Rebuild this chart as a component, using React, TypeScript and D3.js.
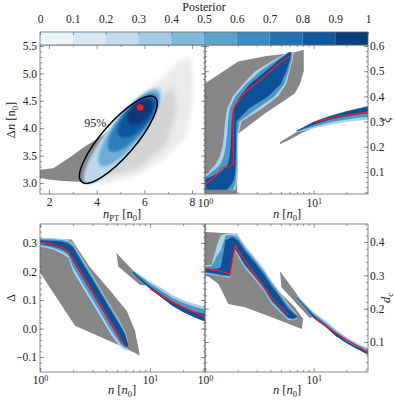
import React, { useEffect, useRef } from 'react'
import * as d3 from 'd3'

type Pt = [number, number]

const FONT = "'Liberation Serif', 'Times New Roman', serif"

// colour bar bins
const cbEdges = [0, 0.1, 0.2, 0.3, 0.4, 0.5, 0.6, 0.7, 0.8, 0.9, 1]

// ---- panel (a): Δn vs n_PT ----
const cloudOuter: Pt[] = [[3.44, 3.01], [4.42, 3.0], [5.54, 3.12], [6.79, 3.43], [7.78, 3.86], [8.05, 4.62], [7.99, 5.29], [7.5, 5.26], [6.79, 4.93], [6.24, 4.75], [5.5, 4.25], [4.5, 3.65], [3.6, 3.15]]
const cloudInner: Pt[] = [[4.42, 3.1], [5.82, 3.29], [6.94, 3.71], [7.36, 4.32], [7.21, 4.75], [6.5, 4.5], [5.5, 4.0], [4.4, 3.35]]
const priorBand: Pt[] = [[1.6, 3.24], [2.18, 3.27], [2.88, 3.47], [3.44, 3.65], [4.15, 3.84], [4.6, 3.98], [4.7, 3.7], [4.2, 3.3], [3.6, 3.02], [3.0, 3.03], [2.46, 3.04], [1.9, 3.07], [1.6, 3.1]]
// density contours: level, centre, end of major axis, axis ratio
const densityLevel = [0.28, 0.5, 0.7, 0.86, 0.97]
const densityCentre: Pt[] = [[5.1, 3.86], [5.36, 4.0], [5.52, 4.1], [5.69, 4.2], [5.82, 4.3]]
const densityEnd: Pt[] = [[6.66, 4.73], [6.57, 4.68], [6.49, 4.61], [6.41, 4.55], [6.28, 4.5]]
const densityRatio = [0.26, 0.3, 0.36, 0.44, 0.58]
const ellipseCentre: Pt = [4.91, 3.79]
const ellipseEnd: Pt = [6.45, 4.56]
const ellipseRatio = 0.3
const bestFit: Pt = [5.83, 4.38]

// ---- panel (b): ξ vs n ----
const xiPrior1: Pt[] = [[0.95, 0.0], [0.95, 0.445], [2.02, 0.539], [3.56, 0.559], [6.27, 0.572], [8.1, 0.585], [8.1, 0.5], [7.5, 0.45], [6.7, 0.412], [3.56, 0.332], [2.02, 0.252], [1.97, 0.0]]
const xiGrid = [0.03, 0.05, 0.07, 0.1, 0.13, 0.16, 0.2, 0.25, 0.3, 0.35, 0.4, 0.45, 0.5, 0.55, 0.575]
const xiOuterLo = [0.9, 0.9, 0.9, 1.08, 1.25, 1.36, 1.45, 1.5, 1.53, 1.6, 1.8, 2.25, 2.9, 4.5, 5.8]
const xiOuterHi = [1.9, 1.95, 1.97, 1.98, 2.0, 2.0, 2.02, 2.03, 2.17, 3.3, 4.7, 5.6, 6.0, 6.45, 6.5]
const xiMidLo = [0.9, 0.9, 0.95, 1.15, 1.38, 1.48, 1.55, 1.6, 1.63, 1.68, 1.9, 2.4, 3.2, 4.75, 5.9]
const xiMidHi = [1.8, 1.9, 1.93, 1.95, 1.96, 1.96, 1.97, 1.98, 2.08, 3.0, 4.35, 5.4, 5.85, 6.3, 6.35]
const xiCoreLo = [0.9, 0.9, 1.0, 1.4, 1.62, 1.68, 1.72, 1.74, 1.76, 1.82, 2.1, 2.6, 3.6, 5.0, 6.0]
const xiCoreHi = [1.6, 1.75, 1.85, 1.9, 1.91, 1.92, 1.93, 1.93, 1.95, 2.5, 3.8, 5.0, 5.6, 6.1, 6.2]
const xiMedian1: Pt[] = [[1.0, 0.048], [1.33, 0.095], [1.42, 0.115], [1.64, 0.12], [1.76, 0.128], [1.82, 0.13], [1.82, 0.348], [1.89, 0.361], [2.33, 0.415], [3.32, 0.468], [4.73, 0.528], [6.06, 0.561]]
const xiPrior2N = [4.9, 6, 8, 10]
const xiPrior2Lo = [0.21, 0.228, 0.258, 0.276]
const xiPrior2Hi = [0.218, 0.242, 0.275, 0.296]
const nHigh = [7, 8, 10, 13, 16, 20, 25, 32]
const xi2OuterLo = [0.258, 0.264, 0.274, 0.285, 0.292, 0.298, 0.303, 0.308]
const xi2OuterHi = [0.266, 0.279, 0.3, 0.318, 0.33, 0.342, 0.352, 0.362]
const xi2MidLo = [0.26, 0.268, 0.28, 0.293, 0.301, 0.308, 0.314, 0.32]
const xi2MidHi = [0.265, 0.278, 0.299, 0.317, 0.329, 0.341, 0.351, 0.361]
const xi2CoreLo = [0.262, 0.272, 0.288, 0.303, 0.312, 0.32, 0.327, 0.333]
const xi2CoreHi = [0.264, 0.277, 0.298, 0.316, 0.328, 0.34, 0.35, 0.36]
const xiMedian2: Pt[] = [[10, 0.296], [13, 0.31], [16, 0.318], [20, 0.326], [25, 0.332], [32, 0.338]]

// ---- panel (c): Δ vs n ----
const dPrior1: Pt[] = [[0.95, 0.316], [1.94, 0.312], [2.85, 0.215], [4.33, 0.133], [6.14, 0.062], [7.3, -0.008], [8.1, -0.095], [5.5, -0.062], [2.08, 0.01], [0.95, 0.21]]
const nLow = [1, 1.3, 1.6, 1.81, 2.0, 2.43, 3.28, 4.4, 5.4, 5.93, 6.3]
const dOuterHi = [0.318, 0.318, 0.315, 0.31, 0.298, 0.244, 0.161, 0.078, 0.02, -0.01, -0.045]
const dOuterLo = [0.288, 0.278, 0.262, 0.248, 0.2, 0.146, 0.063, -0.02, -0.065, -0.075, -0.075]
const dMidHi = [0.314, 0.313, 0.31, 0.305, 0.293, 0.239, 0.156, 0.073, 0.015, -0.015, -0.05]
const dMidLo = [0.292, 0.283, 0.27, 0.256, 0.215, 0.16, 0.077, -0.006, -0.055, -0.068, -0.07]
const dCoreHi = [0.31, 0.308, 0.304, 0.298, 0.285, 0.23, 0.147, 0.064, 0.008, -0.02, -0.055]
const dCoreLo = [0.297, 0.289, 0.278, 0.265, 0.235, 0.18, 0.097, 0.014, -0.045, -0.062, -0.065]
const dMedian1: Pt[] = [[1, 0.303], [1.3, 0.295], [1.6, 0.284], [1.81, 0.272], [2.43, 0.189], [3.28, 0.106], [4.4, 0.023], [5.93, -0.06]]
const dPrior2: Pt[] = [[4.95, 0.265], [7.05, 0.203], [10, 0.15], [8.1, 0.153], [5.15, 0.218]]
const d2OuterHi = [0.205, 0.19, 0.165, 0.14, 0.118, 0.1, 0.087, 0.077]
const d2MidHi = [0.203, 0.186, 0.158, 0.13, 0.108, 0.09, 0.077, 0.066]
const d2CoreHi = [0.2, 0.18, 0.148, 0.118, 0.095, 0.075, 0.06, 0.05]
const d2Lo = [0.195, 0.172, 0.14, 0.106, 0.08, 0.058, 0.04, 0.024]
const dMedian2: Pt[] = [[10, 0.14], [13, 0.112], [17, 0.088], [22, 0.068], [27, 0.053], [32, 0.04]]

// ---- panel (d): d_c vs n ----
const cPrior1: Pt[] = [[0.95, 0.43], [1.96, 0.425], [2.88, 0.344], [4.73, 0.254], [6.7, 0.204], [8.0, 0.169], [7.8, 0.139], [4.1, 0.174], [2.33, 0.204], [1.64, 0.214], [1.33, 0.274], [0.95, 0.309]]
const nSpike = [1, 1.15, 1.3, 1.4, 1.55, 1.7, 1.8, 1.89, 2.02, 2.33, 2.88, 3.5, 4.1, 4.9, 5.84, 6.5, 7.0]
const cOuterHi = [0.33, 0.332, 0.395, 0.42, 0.425, 0.425, 0.425, 0.424, 0.419, 0.39, 0.354, 0.318, 0.284, 0.25, 0.214, 0.196, 0.184]
const cOuterLo = [0.305, 0.302, 0.299, 0.297, 0.295, 0.293, 0.34, 0.372, 0.355, 0.322, 0.287, 0.252, 0.215, 0.19, 0.166, 0.165, 0.17]
const cMidHi = [0.326, 0.328, 0.36, 0.375, 0.42, 0.42, 0.42, 0.418, 0.413, 0.383, 0.347, 0.311, 0.278, 0.244, 0.209, 0.192, 0.181]
const cMidLo = [0.307, 0.304, 0.301, 0.299, 0.297, 0.296, 0.343, 0.376, 0.36, 0.327, 0.291, 0.256, 0.22, 0.194, 0.169, 0.167, 0.172]
const cCoreHi = [0.32, 0.32, 0.32, 0.325, 0.405, 0.412, 0.414, 0.41, 0.404, 0.374, 0.338, 0.302, 0.268, 0.235, 0.2, 0.186, 0.178]
const cCoreLo = [0.31, 0.307, 0.304, 0.302, 0.3, 0.299, 0.346, 0.38, 0.366, 0.332, 0.297, 0.262, 0.226, 0.199, 0.173, 0.17, 0.174]
const cMedian1: Pt[] = [[1, 0.321], [1.33, 0.314], [1.7, 0.304], [1.89, 0.389], [2.33, 0.344], [3.09, 0.289], [4.1, 0.234], [5.84, 0.182]]
const cPrior2: Pt[] = [[4.9, 0.312], [7.2, 0.238], [10, 0.175], [9.2, 0.172], [5.05, 0.264]]
const c2OuterHi = [0.24, 0.222, 0.19, 0.163, 0.138, 0.115, 0.097, 0.082]
const c2MidHi = [0.238, 0.218, 0.185, 0.157, 0.132, 0.109, 0.091, 0.076]
const c2CoreHi = [0.236, 0.214, 0.18, 0.151, 0.126, 0.103, 0.085, 0.07]
const c2Lo = [0.232, 0.21, 0.172, 0.144, 0.118, 0.097, 0.08, 0.062]
const cMedian2: Pt[] = [[10, 0.174], [13, 0.147], [17, 0.121], [22, 0.1], [27, 0.083], [32, 0.066]]

const logMinor = [2, 3, 4, 5, 6, 7, 8, 9, 20, 30]

function App() {
  const svgRef = useRef<SVGSVGElement>(null)

  useEffect(() => {
    const svg = d3.select(svgRef.current)
    svg.selectAll('*').remove()
    const L = 40, M = 205, R = 368, T1 = 45, B1 = 194, T2 = 224, B2 = 372
    const shade = (t: number) => d3.interpolateBlues(t)
    const grey = '#878787'
    const bandShades = [0.32, 0.6, 0.88]
    const defs = svg.append('defs')
    defs.append('filter').attr('id', 'soft').append('feGaussianBlur').attr('stdDeviation', 2.4)
    defs.append('filter').attr('id', 'softer').append('feGaussianBlur').attr('stdDeviation', 1.1)

    const panel = (id: string, x0: number, y0: number, x1: number, y1: number) => {
      defs.append('clipPath').attr('id', id).append('rect')
        .attr('x', x0).attr('y', y0).attr('width', x1 - x0).attr('height', y1 - y0)
      return svg.append('g').attr('clip-path', `url(#${id})`)
    }
    const poly = (g: any, pts: Pt[], x: any, y: any, fill: string) =>
      g.append('path').attr('d', d3.line<Pt>().x(d => x(d[0])).y(d => y(d[1]))(pts) + 'Z').attr('fill', fill)
    const bandN = (g: any, ns: number[], lo: number[], hi: number[], x: any, y: any, fill: string) => {
      const rows = ns.map((n, i) => ({ n, lo: lo[i], hi: hi[i] }))
      g.append('path').attr('fill', fill)
        .attr('d', d3.area<any>().x(d => x(d.n)).y0(d => y(d.lo)).y1(d => y(d.hi))(rows))
    }
    const bandV = (g: any, vs: number[], lo: number[], hi: number[], x: any, y: any, fill: string) => {
      const rows = vs.map((v, i) => ({ v, lo: lo[i], hi: hi[i] }))
      g.append('path').attr('fill', fill)
        .attr('d', d3.area<any>().y(d => y(d.v)).x0(d => x(d.lo)).x1(d => x(d.hi))(rows))
    }
    const median = (g: any, pts: Pt[], x: any, y: any) =>
      g.append('path').attr('d', d3.line<Pt>().x(d => x(d[0])).y(d => y(d[1]))(pts))
        .attr('fill', 'none').attr('stroke', '#ff1a1a').attr('stroke-width', 1.3).attr('stroke-linejoin', 'round')

    // scales
    const xA = d3.scaleLinear().domain([1.622, 8.546]).range([L, M])
    const yA = d3.scaleLinear().domain([2.8, 5.518]).range([B1, T1])
    const xB = d3.scaleLog().domain([1, 10 ** 1.5]).range([M, R])
    const yB = d3.scaleLinear().domain([0.0127, 0.604]).range([B1, T1])
    const xC = d3.scaleLog().domain([1, 10 ** 1.5]).range([L, M])
    const yC = d3.scaleLinear().domain([-0.1526, 0.3667]).range([B2, T2])
    const xD = d3.scaleLog().domain([1, 10 ** 1.5]).range([M, R])
    const yD = d3.scaleLinear().domain([0.01, 0.454]).range([B2, T2])

    // (a)
    const gA = panel('clipA', L, T1, M, B1)
    poly(gA, cloudOuter, xA, yA, '#ebebeb').attr('filter', 'url(#soft)')
    poly(gA, cloudInner, xA, yA, '#d3d3d3').attr('filter', 'url(#soft)')
    poly(gA, priorBand, xA, yA, grey)
    const ell = (c: Pt, e: Pt, r: number) => {
      const cx = xA(c[0]), cy = yA(c[1]), ex = xA(e[0]), ey = yA(e[1])
      const a = Math.hypot(ex - cx, ey - cy)
      const ang = Math.atan2(ey - cy, ex - cx) * 180 / Math.PI
      return gA.append('ellipse').attr('cx', 0).attr('cy', 0).attr('rx', a).attr('ry', a * r)
        .attr('transform', `translate(${cx},${cy}) rotate(${ang})`)
    }
    densityLevel.forEach((lv, i) => {
      ell(densityCentre[i], densityEnd[i], densityRatio[i]).attr('fill', shade(lv)).attr('filter', 'url(#softer)')
    })
    ell(ellipseCentre, ellipseEnd, ellipseRatio).attr('fill', 'none').attr('stroke', '#000').attr('stroke-width', 1.5)
    gA.append('circle').attr('cx', xA(bestFit[0])).attr('cy', yA(bestFit[1])).attr('r', 3.2).attr('fill', '#ff1a1a')
    svg.append('text').attr('x', xA(3.94)).attr('y', yA(4.09) + 4).attr('text-anchor', 'middle')
      .attr('font-family', FONT).attr('font-size', 12).attr('fill', '#222').text('95%')

    // (b)
    const gB = panel('clipB', M, T1, R, B1)
    poly(gB, xiPrior1, xB, yB, grey)
    bandN(gB, xiPrior2N, xiPrior2Lo, xiPrior2Hi, xB, yB, grey)
    bandV(gB, xiGrid, xiOuterLo, xiOuterHi, xB, yB, shade(bandShades[0]))
    bandV(gB, xiGrid, xiMidLo, xiMidHi, xB, yB, shade(bandShades[1]))
    bandV(gB, xiGrid, xiCoreLo, xiCoreHi, xB, yB, shade(bandShades[2]))
    bandN(gB, nHigh, xi2OuterLo, xi2OuterHi, xB, yB, shade(bandShades[0]))
    bandN(gB, nHigh, xi2MidLo, xi2MidHi, xB, yB, shade(bandShades[1]))
    bandN(gB, nHigh, xi2CoreLo, xi2CoreHi, xB, yB, shade(bandShades[2]))
    median(gB, xiMedian1, xB, yB)
    median(gB, xiMedian2, xB, yB)

    // (c)
    const gC = panel('clipC', L, T2, M, B2)
    poly(gC, dPrior1, xC, yC, grey)
    poly(gC, dPrior2, xC, yC, grey)
    bandN(gC, nLow, dOuterLo, dOuterHi, xC, yC, shade(bandShades[0]))
    bandN(gC, nLow, dMidLo, dMidHi, xC, yC, shade(bandShades[1]))
    bandN(gC, nLow, dCoreLo, dCoreHi, xC, yC, shade(bandShades[2]))
    bandN(gC, nHigh, d2Lo, d2OuterHi, xC, yC, shade(bandShades[0]))
    bandN(gC, nHigh, d2Lo, d2MidHi, xC, yC, shade(bandShades[1]))
    bandN(gC, nHigh, d2Lo, d2CoreHi, xC, yC, shade(bandShades[2]))
    median(gC, dMedian1, xC, yC)
    median(gC, dMedian2, xC, yC)

    // (d)
    const gD = panel('clipD', M, T2, R, B2)
    poly(gD, cPrior1, xD, yD, grey)
    poly(gD, cPrior2, xD, yD, grey)
    bandN(gD, nSpike, cOuterLo, cOuterHi, xD, yD, shade(bandShades[0]))
    bandN(gD, nSpike, cMidLo, cMidHi, xD, yD, shade(bandShades[1]))
    bandN(gD, nSpike, cCoreLo, cCoreHi, xD, yD, shade(bandShades[2]))
    bandN(gD, nHigh, c2Lo, c2OuterHi, xD, yD, shade(bandShades[0]))
    bandN(gD, nHigh, c2Lo, c2MidHi, xD, yD, shade(bandShades[1]))
    bandN(gD, nHigh, c2Lo, c2CoreHi, xD, yD, shade(bandShades[2]))
    median(gD, cMedian1, xD, yD)
    median(gD, cMedian2, xD, yD)

    // frames and ticks
    const put = (axis: any, tx: number, ty: number, log = false) => {
      const a = svg.append('g').attr('transform', `translate(${tx},${ty})`).call(axis)
      a.select('.domain').remove()
      a.selectAll('line').attr('stroke', '#6b6b6b').attr('stroke-width', 0.7)
      a.selectAll('text').attr('font-family', FONT).attr('font-size', 11.5).attr('fill', '#222')
      if (log) {
        a.selectAll('text').each(function (d: any) {
          const t = d3.select(this)
          t.text('10')
          t.append('tspan').attr('dy', '-0.45em').attr('font-size', 8).text(String(Math.round(Math.log10(d))))
        })
      }
    }
    const ax = (fn: any, sc: any, vals: number[], len: number, fmt?: any, pad = 3) =>
      fn(sc).tickValues(vals).tickSize(-len).tickPadding(pad).tickFormat(fmt || (() => ''))
    const fmt1 = d3.format('.1f')
    const frame = (x: any, y: any, o: any) => {
      const [x0, x1] = x.range(), [y0, y1] = y.range()
      put(ax(d3.axisBottom, x, o.xMaj, 4, o.xLab ? (o.log ? fmt1 : d3.format('d')) : null, o.xPad), 0, y0, o.log && o.xLab)
      put(ax(d3.axisBottom, x, o.xMin, 2), 0, y0)
      put(ax(d3.axisTop, x, o.xMaj, 4), 0, y1)
      put(ax(d3.axisTop, x, o.xMin, 2), 0, y1)
      put(ax(d3.axisLeft, y, o.yMaj, 4, o.side === 'left' ? fmt1 : null), x0, 0)
      put(ax(d3.axisLeft, y, o.yMin, 2), x0, 0)
      put(ax(d3.axisRight, y, o.yMaj, 4, o.side === 'right' ? fmt1 : null, 2), x1, 0)
      put(ax(d3.axisRight, y, o.yMin, 2), x1, 0)
      svg.append('rect').attr('x', x0).attr('y', y1).attr('width', x1 - x0).attr('height', y0 - y1)
        .attr('fill', 'none').attr('stroke', '#6b6b6b').attr('stroke-width', 0.8)
    }
    const steps = (a: number, b: number, s: number) => d3.range(Math.round((b - a) / s) + 1).map(i => +(a + i * s).toFixed(3))
    frame(xA, yA, { xMaj: [2, 4, 6, 8], xMin: [3, 5, 7], xLab: true, xPad: 4, yMaj: steps(3, 5.5, 0.5), yMin: steps(2.9, 5.5, 0.1), side: 'left' })
    frame(xB, yB, { xMaj: [1, 10], xMin: logMinor, xLab: true, log: true, xPad: 5, yMaj: steps(0.1, 0.6, 0.1), yMin: steps(0.02, 0.6, 0.02), side: 'right' })
    frame(xC, yC, { xMaj: [1, 10], xMin: logMinor, xLab: true, log: true, xPad: 4, yMaj: steps(-0.1, 0.3, 0.1), yMin: steps(-0.14, 0.36, 0.02), side: 'left' })
    frame(xD, yD, { xMaj: [1, 10], xMin: logMinor, xLab: true, log: true, xPad: 4, yMaj: steps(0.1, 0.4, 0.1), yMin: steps(0.02, 0.44, 0.02), side: 'right' })

    // colour bar
    const xCb = d3.scaleLinear().domain([0, 1]).range([L, R])
    svg.append('g').selectAll('rect').data(d3.pairs(cbEdges)).join('rect')
      .attr('x', d => xCb(d[0])).attr('width', d => xCb(d[1]) - xCb(d[0]))
      .attr('y', 32).attr('height', 13).attr('fill', d => shade((d[0] + d[1]) / 2))
    svg.append('rect').attr('x', L).attr('y', 32).attr('width', R - L).attr('height', 13)
      .attr('fill', 'none').attr('stroke', '#6b6b6b').attr('stroke-width', 0.8)
    put(d3.axisTop(xCb).tickValues(cbEdges).tickSize(-3).tickPadding(9).tickFormat(d3.format('~g') as any), 0, 32)
    svg.append('text').attr('x', (L + R) / 2).attr('y', 11).attr('text-anchor', 'middle')
      .attr('font-family', FONT).attr('font-size', 12).attr('fill', '#222').text('Posterior')

    // axis titles
    const title = (x: number, y: number, rot: number, segs: any[]) => {
      const t = svg.append('text').attr('text-anchor', 'middle').attr('font-family', FONT).attr('font-size', 12.5)
        .attr('fill', '#222').attr('transform', `translate(${x},${y}) rotate(${rot})`)
      let shift = 0
      segs.forEach(s => {
        const want = s.sub ? 2.5 : 0
        const sp = t.append('tspan').attr('dy', want - shift).text(s.t)
        shift = want
        if (s.it) sp.attr('font-style', 'italic')
        if (s.sub) sp.attr('font-size', 8.5)
      })
    }
    const nUnit = [{ t: 'n', it: true }, { t: ' [' }, { t: 'n', it: true }, { t: '0', sub: true }, { t: ']' }]
    title(122, 218, 0, [{ t: 'n', it: true }, { t: 'PT', sub: true }, { t: ' [n' }, { t: '0', sub: true }, { t: ']' }])
    title(287, 218, 0, nUnit)
    title(122, 394, 0, nUnit)
    title(287, 394, 0, nUnit)
    title(15, 120, -90, [{ t: 'Δ' }, { t: 'n', it: true }, { t: ' [n' }, { t: '0', sub: true }, { t: ']' }])
    title(15, 298, -90, [{ t: 'Δ' }])
    title(390, 120, -90, [{ t: 'ξ', it: true }])
    title(390, 298, -90, [{ t: 'd', it: true }, { t: 'c', sub: true }])
  }, [])

  return (
    <svg ref={svgRef} width={395} height={400}
      style={{ position: 'absolute', left: 0, top: 0, background: '#fff' }}></svg>
  )
}

export default App
